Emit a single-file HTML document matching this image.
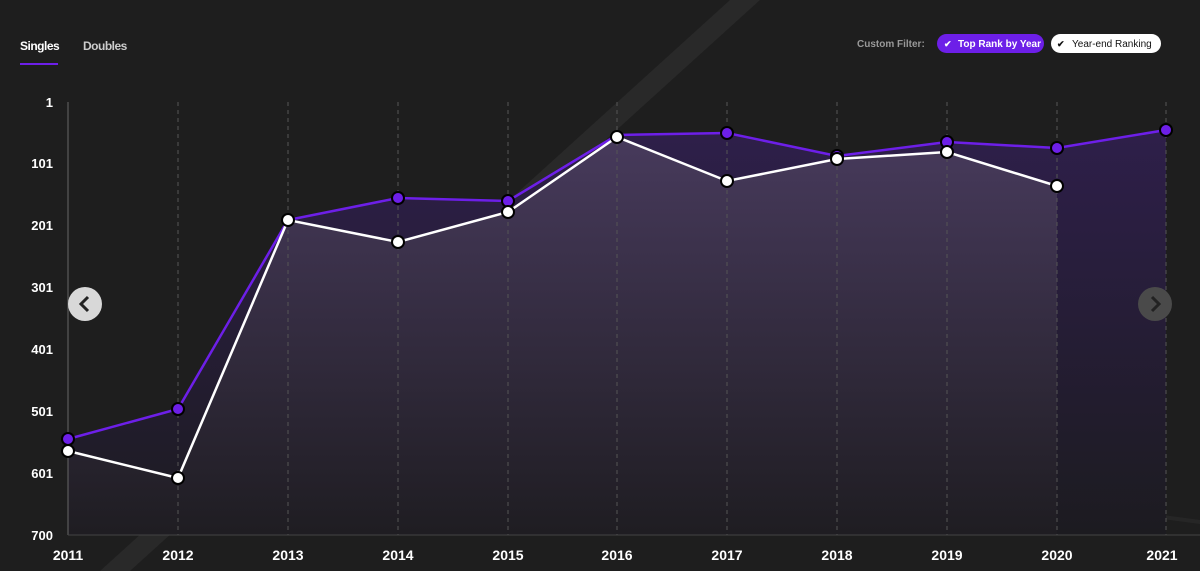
<!DOCTYPE html>
<html><head><style>
html,body{margin:0;padding:0;background:#1e1e1e;width:1200px;height:571px;overflow:hidden;font-family:"Liberation Sans",sans-serif}
</style></head><body>
<svg width="1200" height="571" xmlns="http://www.w3.org/2000/svg" style="position:absolute;left:0;top:0">
<defs>
<linearGradient id="gp" x1="0" y1="0" x2="0" y2="1">
<stop offset="0" stop-color="#2e1f4a"/><stop offset="1" stop-color="#1c1b20"/>
</linearGradient>
<linearGradient id="gw" x1="0" y1="0" x2="0" y2="1">
<stop offset="0" stop-color="#4a3d5e"/><stop offset="1" stop-color="#1f1d22"/>
</linearGradient>
</defs>
<rect width="1200" height="571" fill="#1e1e1e"/>
<polygon points="100,571 130,571 760,0 730,0" fill="#ffffff" opacity="0.05"/>
<polygon points="270,395 1200,520 1200,524 270,399" fill="#ffffff" opacity="0.04"/>
<polygon points="68,439 178,409 288,220 398,198 508,201 617,135 727,133 837,156 947,142 1057,148 1166,130 1166,535 68,535" fill="url(#gp)"/>
<polygon points="68,451 178,478 288,220 398,242 508,212 617,137 727,181 837,159 947,152 1057,186 1057,535 68,535" fill="url(#gw)" opacity="0.9"/>
<g stroke="#555" stroke-dasharray="4,4" stroke-width="1">
<line x1="178" y1="102" x2="178" y2="535"/><line x1="288" y1="102" x2="288" y2="535"/><line x1="398" y1="102" x2="398" y2="535"/><line x1="508" y1="102" x2="508" y2="535"/><line x1="617" y1="102" x2="617" y2="535"/><line x1="727" y1="102" x2="727" y2="535"/><line x1="837" y1="102" x2="837" y2="535"/><line x1="947" y1="102" x2="947" y2="535"/><line x1="1057" y1="102" x2="1057" y2="535"/><line x1="1166" y1="102" x2="1166" y2="535"/>
</g>
<line x1="68" y1="102" x2="68" y2="535" stroke="#666"/>
<line x1="68" y1="535" x2="1200" y2="535" stroke="#444"/>
<polyline points="68,439 178,409 288,220 398,198 508,201 617,135 727,133 837,156 947,142 1057,148 1166,130" fill="none" stroke="#6d1fe8" stroke-width="2.5"/>
<polyline points="68,451 178,478 288,220 398,242 508,212 617,137 727,181 837,159 947,152 1057,186" fill="none" stroke="#fff" stroke-width="2.5"/>
<g fill="#6d1fe8" stroke="#000" stroke-width="2">
<circle cx="68" cy="439" r="6"/><circle cx="178" cy="409" r="6"/><circle cx="398" cy="198" r="6"/><circle cx="508" cy="201" r="6"/><circle cx="727" cy="133" r="6"/><circle cx="837" cy="156" r="6"/><circle cx="947" cy="142" r="6"/><circle cx="1057" cy="148" r="6"/><circle cx="1166" cy="130" r="6"/>
</g>
<g fill="#fff" stroke="#000" stroke-width="2">
<circle cx="68" cy="451" r="6"/><circle cx="178" cy="478" r="6"/><circle cx="288" cy="220" r="6"/><circle cx="398" cy="242" r="6"/><circle cx="508" cy="212" r="6"/><circle cx="617" cy="137" r="6"/><circle cx="727" cy="181" r="6"/><circle cx="837" cy="159" r="6"/><circle cx="947" cy="152" r="6"/><circle cx="1057" cy="186" r="6"/>
</g>
<g fill="#fff" font-weight="bold" font-size="13" text-anchor="end">
<text x="53" y="107">1</text><text x="53" y="168">101</text><text x="53" y="230">201</text><text x="53" y="292">301</text><text x="53" y="354">401</text><text x="53" y="416">501</text><text x="53" y="478">601</text><text x="53" y="540">700</text>
</g>
<g fill="#fff" font-weight="bold" font-size="14" text-anchor="middle">
<text x="68" y="560">2011</text><text x="178" y="560">2012</text><text x="288" y="560">2013</text><text x="398" y="560">2014</text><text x="508" y="560">2015</text><text x="617" y="560">2016</text><text x="727" y="560">2017</text><text x="837" y="560">2018</text><text x="947" y="560">2019</text><text x="1057" y="560">2020</text><text x="1162" y="560">2021</text>
</g>
<circle cx="85" cy="304" r="17" fill="#d8d8d8"/>
<polyline points="88,297 81,304 88,311" fill="none" stroke="#222" stroke-width="3"/>
<circle cx="1155" cy="304" r="17" fill="#4a4a4a"/>
<polyline points="1152,297 1159,304 1152,311" fill="none" stroke="#222" stroke-width="3"/>
<text x="20" y="50" fill="#fff" font-weight="bold" font-size="12" letter-spacing="-0.5">Singles</text>
<rect x="20" y="63" width="38" height="2" fill="#6d1fe8"/>
<text x="83" y="50" fill="#ccc" font-weight="bold" font-size="12" letter-spacing="-0.5">Doubles</text>
<text x="857" y="47" fill="#999" font-weight="bold" font-size="10">Custom Filter:</text>
<rect x="937" y="34" width="107" height="19" rx="9.5" fill="#6d1fe8"/>
<text x="944" y="47" fill="#fff" font-size="9" font-weight="bold">✔</text>
<text x="958" y="47" fill="#fff" font-size="10" font-weight="bold">Top Rank by Year</text>
<rect x="1051" y="34" width="110" height="19" rx="9.5" fill="#fff"/>
<text x="1057" y="47" fill="#111" font-size="9" font-weight="bold">✔</text>
<text x="1072" y="47" fill="#111" font-size="10">Year-end Ranking</text>
</svg>
</body></html>
